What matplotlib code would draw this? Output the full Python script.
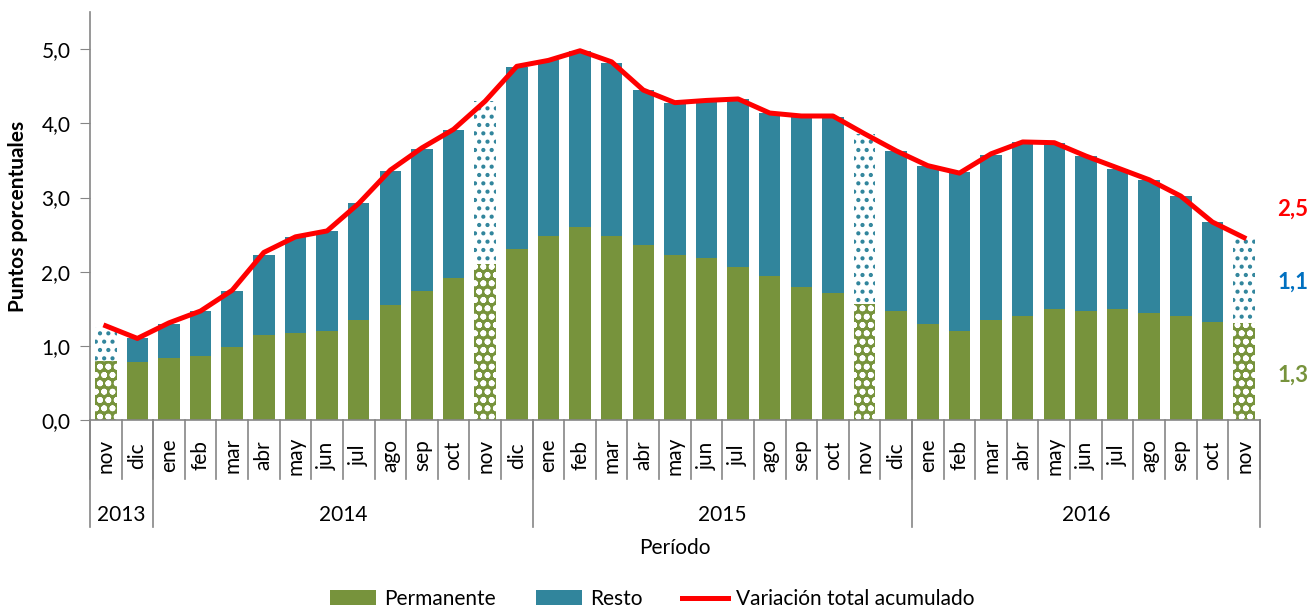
import numpy as np
import matplotlib
matplotlib.use("Agg")
import matplotlib.pyplot as plt
from matplotlib.patches import Patch
from matplotlib.lines import Line2D

plt.rcParams['font.family'] = ['Lato', 'DejaVu Sans']
plt.rcParams['hatch.linewidth'] = 1.8

months = ['nov', 'dic',
          'ene', 'feb', 'mar', 'abr', 'may', 'jun', 'jul', 'ago', 'sep', 'oct', 'nov', 'dic',
          'ene', 'feb', 'mar', 'abr', 'may', 'jun', 'jul', 'ago', 'sep', 'oct', 'nov', 'dic',
          'ene', 'feb', 'mar', 'abr', 'may', 'jun', 'jul', 'ago', 'sep', 'oct', 'nov']
years = ['2013', '2014', '2015', '2016']
year_counts = [2, 12, 12, 11]

permanente = [0.80, 0.78, 0.83, 0.86, 0.98, 1.15, 1.17, 1.20, 1.35, 1.55, 1.74, 1.91, 2.11, 2.31,
              2.48, 2.60, 2.48, 2.36, 2.23, 2.18, 2.06, 1.94, 1.79, 1.71, 1.57, 1.47,
              1.30, 1.20, 1.35, 1.40, 1.50, 1.47, 1.50, 1.44, 1.40, 1.32, 1.31]
resto = [0.46, 0.32, 0.47, 0.61, 0.76, 1.08, 1.30, 1.35, 1.57, 1.81, 1.92, 2.00, 2.19, 2.45,
         2.38, 2.38, 2.33, 2.09, 2.05, 2.12, 2.27, 2.20, 2.30, 2.37, 2.29, 2.16,
         2.13, 2.14, 2.23, 2.35, 2.23, 2.09, 1.89, 1.80, 1.62, 1.35, 1.17]
total = [1.27, 1.10, 1.31, 1.47, 1.75, 2.26, 2.47, 2.55, 2.92, 3.37, 3.67, 3.92, 4.30, 4.77,
         4.85, 4.98, 4.83, 4.45, 4.28, 4.31, 4.33, 4.14, 4.10, 4.10, 3.86, 3.63,
         3.43, 3.33, 3.59, 3.75, 3.74, 3.56, 3.40, 3.24, 3.02, 2.67, 2.46]
# months with provisional (hatched) bars
hatched_idx = [0, 12, 24, 36]

last_labels = ['2,5', '1,1', '1,3']

GREEN = '#77933C'
TEAL = '#31859C'
RED = '#FF0000'
AXIS = '#868686'
FS = 15

fig = plt.figure(figsize=(13.13, 6.10), dpi=100)
ax = fig.add_axes([0.0685, 0.3115, 0.891, 0.6685])

x = np.arange(len(months))
perm = np.array(permanente)
rest = np.array(resto)
w = 0.68

for i in x:
    if i in hatched_idx:
        ax.bar(i, perm[i], w, color=GREEN, edgecolor='white', hatch='oo', linewidth=0)
        ax.bar(i, rest[i], w, bottom=perm[i], color='white', edgecolor=TEAL, hatch='..', linewidth=0)
    else:
        ax.bar(i, perm[i], w, color=GREEN, linewidth=0)
        ax.bar(i, rest[i], w, bottom=perm[i], color=TEAL, linewidth=0)

ax.plot(x, total, color=RED, lw=3.6, solid_joinstyle='round', zorder=5)

ax.set_xlim(-0.5, len(months) - 0.5)
ax.set_ylim(0, 5.5)
yt = np.arange(0, 5.1, 1.0)
ax.set_yticks(yt)
ax.set_yticklabels([f'{v:.1f}'.replace('.', ',') for v in yt], fontsize=FS)
ax.tick_params(axis='y', direction='out', length=7, color=AXIS, pad=7)
ax.set_xticks([])
for s in ['top', 'right']:
    ax.spines[s].set_visible(False)
for s in ['left', 'bottom']:
    ax.spines[s].set_color(AXIS)
    ax.spines[s].set_linewidth(1.2)

tr = ax.get_xaxis_transform()
# month separators and labels
for k in range(len(months) + 1):
    ax.plot([k - 0.5, k - 0.5], [0, -0.145], transform=tr, color=AXIS, lw=1.2, clip_on=False)
for i, m in enumerate(months):
    ax.text(i, -0.087, m, transform=tr, rotation=90, ha='center', va='center', fontsize=FS)

# year separators and labels
start = 0
bounds = [-0.5]
for y, c in zip(years, year_counts):
    ax.text(start + (c - 1) / 2, -0.233, y, transform=tr, ha='center', va='center', fontsize=FS)
    start += c
    bounds.append(start - 0.5)
for b in bounds:
    ax.plot([b, b], [0, -0.262], transform=tr, color=AXIS, lw=1.2, clip_on=False)

ax.text(0.5, -0.314, 'Período', transform=ax.transAxes, ha='center', va='center', fontsize=FS)
ax.set_ylabel('Puntos porcentuales', fontsize=15, fontweight='bold', labelpad=10)

# last-value labels
ax.text(37.55, 2.84, last_labels[0], color=RED, fontsize=16, fontweight='bold', ha='center', va='center', clip_on=False)
ax.text(37.55, 1.86, last_labels[1], color='#0070C0', fontsize=16, fontweight='bold', ha='center', va='center', clip_on=False)
ax.text(37.55, 0.61, last_labels[2], color=GREEN, fontsize=16, fontweight='bold', ha='center', va='center', clip_on=False)

handles = [Patch(facecolor=GREEN, label='Permanente'),
           Patch(facecolor=TEAL, label='Resto'),
           Line2D([0], [0], color=RED, lw=3.6, label='Variación total acumulado')]
fig.legend(handles=handles, loc='center', bbox_to_anchor=(0.497, 0.018), ncol=3, frameon=False,
           fontsize=FS, handlelength=2.2, handleheight=0.75, handletextpad=0.4, columnspacing=1.9)

fig.savefig('out.png', dpi=100)
